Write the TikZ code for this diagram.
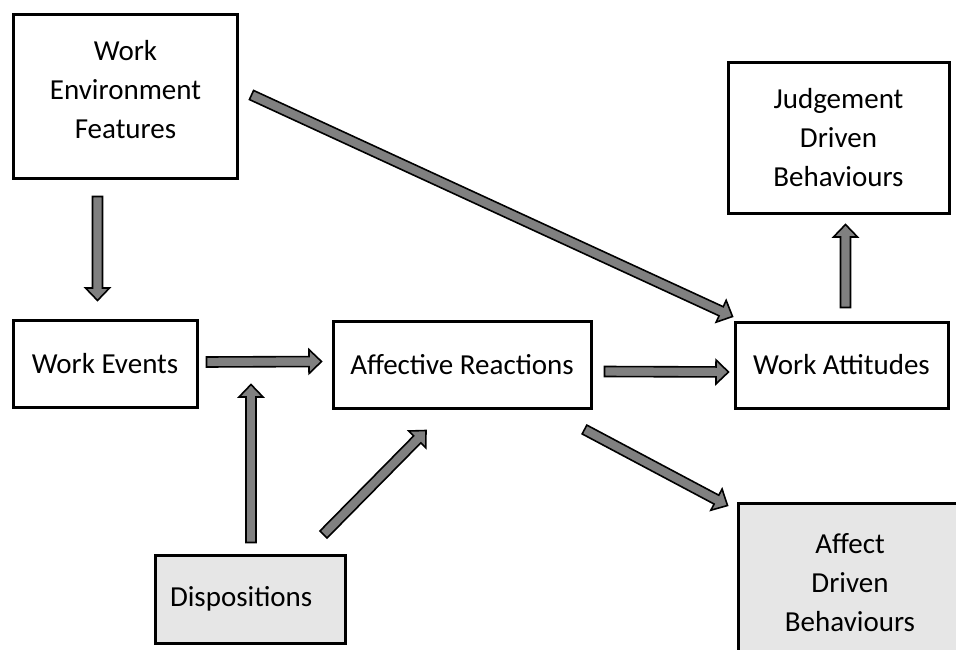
\documentclass[tikz,border=0pt]{standalone}
\usepackage{fontspec}
\setmainfont{Carlito}
\usetikzlibrary{calc}
\definecolor{arrowgray}{RGB}{128,128,128}
\definecolor{boxgray}{RGB}{230,230,230}
\tikzset{
  box/.style={draw=black, line width=3pt, rectangle, inner sep=0pt, align=center,
    font=\fontsize{29}{39}\selectfont},
  shadedbox/.style={box, fill=boxgray},
  blockarrow/.style={draw=black, fill=arrowgray, line width=1.6pt, line join=miter},
}
\newcommand\blockarrow[2]{%
  \coordinate (ba s) at #1;
  \coordinate (ba e) at #2;
  \coordinate (ba h) at ($(ba e)!12.5pt!(ba s)$);
  \draw[blockarrow] ($(ba s)!5pt!90:(ba e)$) -- ($(ba h)!5pt!90:(ba e)$)
    -- ($(ba h)!12pt!90:(ba e)$) -- (ba e) -- ($(ba h)!12pt!-90:(ba e)$)
    -- ($(ba h)!5pt!-90:(ba e)$) -- ($(ba s)!5pt!-90:(ba e)$) -- cycle;
}
\begin{document}
\begin{tikzpicture}[x=1pt,y=-1pt]
\clip (0,0) rectangle (956,650);
\fill[white] (0,0) rectangle (956,650);
% boxes
\node[box, minimum width=224pt, minimum height=164pt, text depth=14pt] (wef) at (125.5,96.5) {Work\\Environment\\Features};
\node[box, minimum width=221pt, minimum height=150pt] (je) at (838.5,138) {Judgement\\Driven\\Behaviours};
\node[box, minimum width=184pt, minimum height=87pt] (we) at (105,363.5) {Work Events};
\node[box, minimum width=258pt, minimum height=87pt] (ar) at (462,364.5) {Affective Reactions};
\node[box, minimum width=213pt, minimum height=86pt] (wa) at (841.5,365) {Work Attitudes};
\node[shadedbox, minimum width=190pt, minimum height=88pt, text width=160pt, align=left] (disp) at (250,599) {Dispositions};
\node[shadedbox, minimum width=224pt, minimum height=160pt] (adb) at (850,583) {Affect\\Driven\\Behaviours};
% arrows
\blockarrow{($(wef.south)+(-28,16.5)$)}{($(we.north)+(-7.5,-18)$)}
\blockarrow{($(wef.east)+(12.5,-1.5)$)}{($(wa.north west)+(-1,-4)$)}
\blockarrow{($(we.east)+(8,-1.5)$)}{($(ar.west)+(-10,-3)$)}
\blockarrow{($(ar.east)+(12,7)$)}{($(wa.west)+(-5,7)$)}
\blockarrow{($(disp.north)+(1,-11)$)}{($(disp.north)+(1,-169)$)}
\blockarrow{($(disp.north east)+(-23,-19)$)}{($(ar.south)+(-36,21)$)}
\blockarrow{($(ar.south east)+(-8,20)$)}{($(adb.north west)+(-9,4)$)}
\blockarrow{($(wa.north)+(4,-13)$)}{($(je.south)+(7,10)$)}
\end{tikzpicture}
\end{document}
